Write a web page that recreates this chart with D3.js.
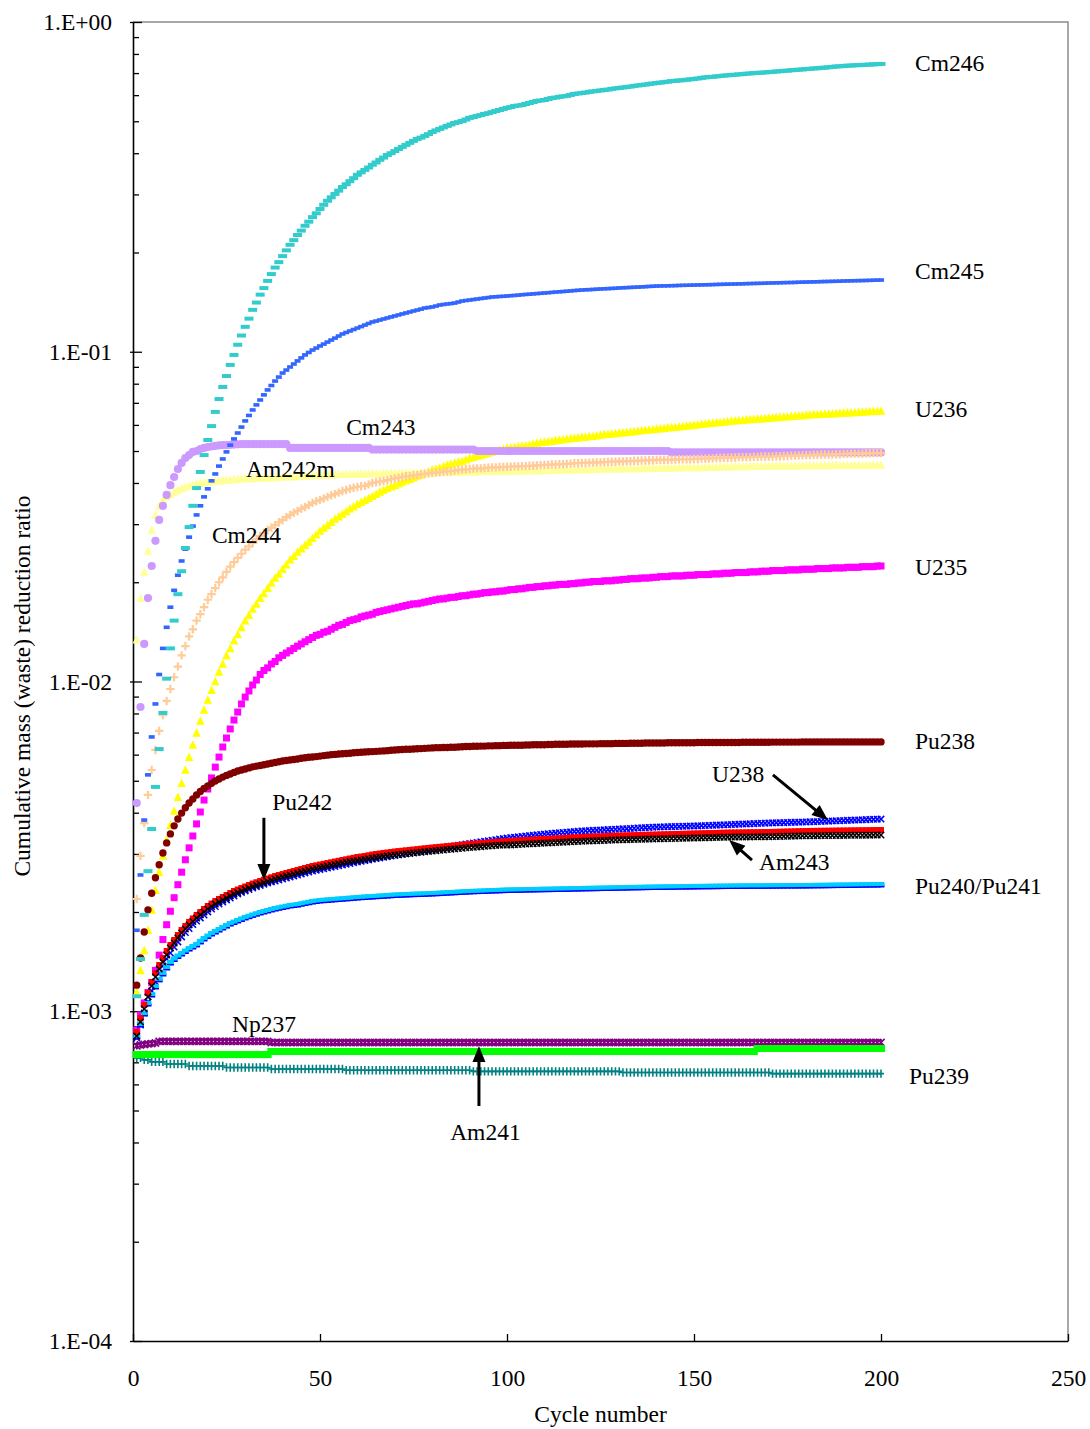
<!DOCTYPE html>
<html>
<head>
<meta charset="utf-8">
<script src="https://cdn.jsdelivr.net/npm/d3@7"></script>
<style>
  html, body { margin: 0; padding: 0; background: #fff; }
  svg text { font-family: "Liberation Serif", "Times New Roman", serif; fill: #000; }
</style>
</head>
<body>
<svg id="chart" width="1090" height="1429"></svg>
<script>
// ---- Data: cumulative mass (waste) reduction ratio for each recycling cycle ----
const cycles = [1,2,3,4,5,6,7,8,9,10,11,12,13,14,15,16,17,18,19,20,
  21,22,23,24,25,26,27,28,29,30,31,32,33,34,35,36,37,38,39,40,
  41,42,43,44,45,46,47,48,49,50,51,52,53,54,55,56,57,58,59,60,
  61,62,63,64,65,66,67,68,69,70,71,72,73,74,75,76,77,78,79,80,
  81,82,83,84,85,86,87,88,89,90,91,92,93,94,95,96,97,98,99,100,
  101,102,103,104,105,106,107,108,109,110,111,112,113,114,115,116,117,118,119,120,
  121,122,123,124,125,126,127,128,129,130,131,132,133,134,135,136,137,138,139,140,
  141,142,143,144,145,146,147,148,149,150,151,152,153,154,155,156,157,158,159,160,
  161,162,163,164,165,166,167,168,169,170,171,172,173,174,175,176,177,178,179,180,
  181,182,183,184,185,186,187,188,189,190,191,192,193,194,195,196,197,198,199,200];

const U235 = [8.77e-4,9.74e-4,1.06e-3,1.14e-3,1.22e-3,1.33e-3,1.48e-3,1.65e-3,1.83e-3,2.01e-3,
  2.21e-3,2.42e-3,2.64e-3,2.88e-3,3.13e-3,3.40e-3,3.70e-3,4.02e-3,4.37e-3,4.72e-3,
  5.10e-3,5.50e-3,5.90e-3,6.33e-3,6.74e-3,7.18e-3,7.64e-3,8.08e-3,8.55e-3,8.97e-3,
  9.36e-3,9.76e-3,0.0101,0.0105,0.0108,0.0110,0.0113,0.0115,0.0118,0.0120,
  0.0122,0.0124,0.0126,0.0128,0.0130,0.0132,0.0134,0.0136,0.0138,0.0139,
  0.0141,0.0142,0.0144,0.0146,0.0148,0.0149,0.0151,0.0153,0.0154,0.0155,
  0.0157,0.0158,0.0159,0.0160,0.0162,0.0163,0.0164,0.0165,0.0166,0.0167,
  0.0168,0.0169,0.0170,0.0171,0.0172,0.0172,0.0173,0.0174,0.0175,0.0176,
  0.0177,0.0178,0.0178,0.0179,0.0180,0.0180,0.0181,0.0182,0.0182,0.0183,
  0.0184,0.0184,0.0185,0.0186,0.0186,0.0187,0.0187,0.0188,0.0188,0.0189,
  0.0190,0.0190,0.0191,0.0191,0.0192,0.0193,0.0193,0.0194,0.0194,0.0195,
  0.0195,0.0196,0.0196,0.0197,0.0197,0.0197,0.0198,0.0198,0.0199,0.0199,
  0.0200,0.0200,0.0201,0.0201,0.0201,0.0202,0.0202,0.0202,0.0203,0.0203,
  0.0204,0.0204,0.0205,0.0205,0.0205,0.0206,0.0206,0.0206,0.0207,0.0207,
  0.0208,0.0208,0.0208,0.0209,0.0209,0.0209,0.0209,0.0210,0.0210,0.0210,
  0.0211,0.0211,0.0211,0.0211,0.0212,0.0212,0.0212,0.0213,0.0213,0.0213,
  0.0214,0.0214,0.0214,0.0214,0.0215,0.0215,0.0215,0.0216,0.0216,0.0216,
  0.0217,0.0217,0.0217,0.0217,0.0218,0.0218,0.0218,0.0218,0.0219,0.0219,
  0.0219,0.0219,0.0220,0.0220,0.0220,0.0220,0.0221,0.0221,0.0221,0.0221,
  0.0222,0.0222,0.0222,0.0222,0.0223,0.0223,0.0223,0.0223,0.0224,0.0224];

const U236 = [1.14e-3,1.33e-3,1.53e-3,1.76e-3,2.03e-3,2.33e-3,2.64e-3,2.96e-3,3.31e-3,3.67e-3,
  4.05e-3,4.46e-3,4.92e-3,5.39e-3,5.90e-3,6.42e-3,6.98e-3,7.59e-3,8.20e-3,8.79e-3,
  9.42e-3,0.0100,0.0107,0.0113,0.0120,0.0126,0.0133,0.0139,0.0146,0.0153,
  0.0159,0.0166,0.0172,0.0179,0.0185,0.0192,0.0199,0.0206,0.0212,0.0219,
  0.0226,0.0234,0.0240,0.0247,0.0253,0.0259,0.0265,0.0272,0.0279,0.0286,
  0.0292,0.0298,0.0304,0.0311,0.0316,0.0322,0.0328,0.0334,0.0339,0.0345,
  0.0350,0.0355,0.0360,0.0365,0.0370,0.0376,0.0381,0.0386,0.0390,0.0394,
  0.0398,0.0403,0.0407,0.0411,0.0415,0.0420,0.0424,0.0429,0.0433,0.0438,
  0.0441,0.0444,0.0449,0.0454,0.0457,0.0460,0.0463,0.0466,0.0471,0.0476,
  0.0479,0.0483,0.0486,0.0490,0.0493,0.0497,0.0500,0.0504,0.0507,0.0511,
  0.0512,0.0514,0.0516,0.0518,0.0519,0.0521,0.0525,0.0529,0.0531,0.0533,
  0.0534,0.0536,0.0538,0.0540,0.0542,0.0544,0.0546,0.0548,0.0549,0.0551,
  0.0552,0.0554,0.0555,0.0557,0.0559,0.0561,0.0562,0.0564,0.0565,0.0567,
  0.0568,0.0570,0.0571,0.0573,0.0575,0.0577,0.0578,0.0580,0.0581,0.0583,
  0.0584,0.0586,0.0588,0.0590,0.0591,0.0593,0.0594,0.0596,0.0598,0.0600,
  0.0601,0.0603,0.0605,0.0607,0.0608,0.0610,0.0611,0.0613,0.0615,0.0617,
  0.0618,0.0619,0.0620,0.0622,0.0623,0.0625,0.0626,0.0627,0.0628,0.0630,
  0.0631,0.0632,0.0633,0.0635,0.0636,0.0638,0.0639,0.0640,0.0641,0.0643,
  0.0644,0.0645,0.0646,0.0647,0.0648,0.0649,0.0649,0.0650,0.0651,0.0652,
  0.0653,0.0654,0.0655,0.0656,0.0657,0.0658,0.0659,0.0660,0.0660,0.0661];

const U238 = [8.30e-4,9.08e-4,9.88e-4,1.067e-3,1.152e-3,1.227e-3,1.306e-3,1.371e-3,1.441e-3,1.502e-3,
  1.566e-3,1.622e-3,1.680e-3,1.733e-3,1.782e-3,1.832e-3,1.878e-3,1.918e-3,1.958e-3,2.000e-3,
  2.042e-3,2.078e-3,2.114e-3,2.144e-3,2.175e-3,2.205e-3,2.236e-3,2.268e-3,2.292e-3,2.316e-3,
  2.340e-3,2.365e-3,2.386e-3,2.407e-3,2.428e-3,2.449e-3,2.466e-3,2.483e-3,2.500e-3,2.518e-3,
  2.536e-3,2.554e-3,2.571e-3,2.588e-3,2.607e-3,2.626e-3,2.644e-3,2.662e-3,2.677e-3,2.691e-3,
  2.705e-3,2.719e-3,2.734e-3,2.748e-3,2.763e-3,2.777e-3,2.792e-3,2.806e-3,2.821e-3,2.836e-3,
  2.850e-3,2.864e-3,2.878e-3,2.891e-3,2.904e-3,2.917e-3,2.930e-3,2.942e-3,2.955e-3,2.967e-3,
  2.980e-3,2.992e-3,3.005e-3,3.017e-3,3.030e-3,3.042e-3,3.055e-3,3.068e-3,3.081e-3,3.093e-3,
  3.106e-3,3.119e-3,3.133e-3,3.146e-3,3.159e-3,3.172e-3,3.186e-3,3.199e-3,3.213e-3,3.226e-3,
  3.239e-3,3.251e-3,3.264e-3,3.276e-3,3.289e-3,3.301e-3,3.314e-3,3.327e-3,3.340e-3,3.352e-3,
  3.362e-3,3.371e-3,3.381e-3,3.390e-3,3.400e-3,3.409e-3,3.419e-3,3.428e-3,3.438e-3,3.447e-3,
  3.455e-3,3.462e-3,3.469e-3,3.476e-3,3.484e-3,3.491e-3,3.499e-3,3.506e-3,3.514e-3,3.521e-3,
  3.526e-3,3.531e-3,3.536e-3,3.540e-3,3.545e-3,3.550e-3,3.555e-3,3.559e-3,3.564e-3,3.569e-3,
  3.574e-3,3.579e-3,3.584e-3,3.589e-3,3.595e-3,3.600e-3,3.605e-3,3.610e-3,3.615e-3,3.620e-3,
  3.623e-3,3.625e-3,3.628e-3,3.630e-3,3.633e-3,3.635e-3,3.638e-3,3.640e-3,3.643e-3,3.645e-3,
  3.649e-3,3.653e-3,3.657e-3,3.660e-3,3.664e-3,3.668e-3,3.672e-3,3.675e-3,3.679e-3,3.683e-3,
  3.687e-3,3.691e-3,3.695e-3,3.699e-3,3.703e-3,3.707e-3,3.711e-3,3.715e-3,3.719e-3,3.723e-3,
  3.726e-3,3.728e-3,3.731e-3,3.733e-3,3.736e-3,3.739e-3,3.742e-3,3.744e-3,3.747e-3,3.749e-3,
  3.753e-3,3.757e-3,3.761e-3,3.765e-3,3.769e-3,3.772e-3,3.776e-3,3.780e-3,3.784e-3,3.788e-3,
  3.792e-3,3.796e-3,3.800e-3,3.804e-3,3.808e-3,3.812e-3,3.816e-3,3.820e-3,3.824e-3,3.828e-3];

const Np237 = [7.85e-4,7.90e-4,7.93e-4,7.96e-4,7.98e-4,8.01e-4,8.10e-4,8.10e-4,8.10e-4,8.10e-4,
  8.10e-4,8.10e-4,8.10e-4,8.10e-4,8.10e-4,8.10e-4,8.10e-4,8.10e-4,8.10e-4,8.10e-4,
  8.10e-4,8.10e-4,8.10e-4,8.10e-4,8.10e-4,8.10e-4,8.10e-4,8.10e-4,8.10e-4,8.10e-4,
  8.10e-4,8.10e-4,8.10e-4,8.10e-4,8.10e-4,8.10e-4,8.04e-4,8.04e-4,8.04e-4,8.04e-4,
  8.04e-4,8.04e-4,8.04e-4,8.04e-4,8.04e-4,8.04e-4,8.04e-4,8.04e-4,8.04e-4,8.04e-4,
  8.04e-4,8.04e-4,8.04e-4,8.04e-4,8.04e-4,8.04e-4,8.04e-4,8.04e-4,8.04e-4,8.04e-4,
  8.04e-4,8.04e-4,8.04e-4,8.04e-4,8.04e-4,8.04e-4,8.04e-4,8.04e-4,8.04e-4,8.04e-4,
  8.04e-4,8.04e-4,8.04e-4,8.04e-4,8.04e-4,8.04e-4,8.04e-4,8.04e-4,8.04e-4,8.04e-4,
  8.04e-4,8.04e-4,8.04e-4,8.04e-4,8.04e-4,8.04e-4,8.04e-4,8.04e-4,8.04e-4,8.04e-4,
  8.04e-4,8.04e-4,8.04e-4,8.04e-4,8.04e-4,8.04e-4,8.04e-4,8.04e-4,8.04e-4,8.04e-4,
  8.04e-4,8.04e-4,8.04e-4,8.04e-4,8.04e-4,8.04e-4,8.04e-4,8.04e-4,8.04e-4,8.04e-4,
  8.04e-4,8.04e-4,8.04e-4,8.04e-4,8.04e-4,8.04e-4,8.04e-4,8.04e-4,8.04e-4,8.04e-4,
  8.04e-4,8.04e-4,8.04e-4,8.04e-4,8.04e-4,8.04e-4,8.04e-4,8.04e-4,8.04e-4,8.04e-4,
  8.04e-4,8.04e-4,8.04e-4,8.04e-4,8.04e-4,8.04e-4,8.04e-4,8.04e-4,8.04e-4,8.04e-4,
  8.04e-4,8.04e-4,8.04e-4,8.04e-4,8.04e-4,8.04e-4,8.04e-4,8.04e-4,8.04e-4,8.04e-4,
  8.04e-4,8.04e-4,8.04e-4,8.04e-4,8.04e-4,8.04e-4,8.04e-4,8.04e-4,8.04e-4,8.04e-4,
  8.04e-4,8.04e-4,8.04e-4,8.04e-4,8.04e-4,8.04e-4,8.04e-4,8.04e-4,8.04e-4,8.04e-4,
  8.04e-4,8.04e-4,8.04e-4,8.04e-4,8.04e-4,8.04e-4,8.04e-4,8.04e-4,8.04e-4,8.04e-4,
  8.04e-4,8.04e-4,8.04e-4,8.04e-4,8.04e-4,8.04e-4,8.04e-4,8.04e-4,8.04e-4,8.04e-4,
  8.04e-4,8.04e-4,8.04e-4,8.04e-4,8.04e-4,8.04e-4,8.04e-4,8.04e-4,8.04e-4,8.04e-4];

const Pu238 = [1.20e-3,1.45e-3,1.74e-3,2.03e-3,2.28e-3,2.54e-3,2.78e-3,3.02e-3,3.24e-3,3.45e-3,
  3.65e-3,3.83e-3,3.99e-3,4.14e-3,4.28e-3,4.40e-3,4.53e-3,4.64e-3,4.74e-3,4.82e-3,
  4.91e-3,4.99e-3,5.06e-3,5.13e-3,5.19e-3,5.24e-3,5.30e-3,5.35e-3,5.39e-3,5.43e-3,
  5.47e-3,5.51e-3,5.54e-3,5.56e-3,5.59e-3,5.62e-3,5.65e-3,5.68e-3,5.71e-3,5.74e-3,
  5.76e-3,5.78e-3,5.80e-3,5.82e-3,5.85e-3,5.87e-3,5.89e-3,5.90e-3,5.92e-3,5.94e-3,
  5.96e-3,5.98e-3,6.00e-3,6.01e-3,6.03e-3,6.04e-3,6.05e-3,6.06e-3,6.08e-3,6.09e-3,
  6.10e-3,6.11e-3,6.12e-3,6.13e-3,6.14e-3,6.15e-3,6.16e-3,6.17e-3,6.19e-3,6.20e-3,
  6.21e-3,6.22e-3,6.23e-3,6.23e-3,6.24e-3,6.25e-3,6.26e-3,6.27e-3,6.28e-3,6.29e-3,
  6.30e-3,6.30e-3,6.31e-3,6.31e-3,6.32e-3,6.32e-3,6.33e-3,6.34e-3,6.35e-3,6.35e-3,
  6.36e-3,6.36e-3,6.37e-3,6.37e-3,6.38e-3,6.38e-3,6.39e-3,6.39e-3,6.40e-3,6.40e-3,
  6.41e-3,6.41e-3,6.41e-3,6.41e-3,6.42e-3,6.42e-3,6.43e-3,6.43e-3,6.43e-3,6.43e-3,
  6.44e-3,6.44e-3,6.45e-3,6.45e-3,6.45e-3,6.45e-3,6.46e-3,6.46e-3,6.46e-3,6.46e-3,
  6.47e-3,6.47e-3,6.47e-3,6.47e-3,6.48e-3,6.48e-3,6.48e-3,6.48e-3,6.49e-3,6.49e-3,
  6.49e-3,6.49e-3,6.50e-3,6.50e-3,6.50e-3,6.50e-3,6.51e-3,6.51e-3,6.51e-3,6.51e-3,
  6.51e-3,6.51e-3,6.52e-3,6.52e-3,6.52e-3,6.52e-3,6.52e-3,6.52e-3,6.52e-3,6.52e-3,
  6.53e-3,6.53e-3,6.53e-3,6.53e-3,6.53e-3,6.53e-3,6.53e-3,6.53e-3,6.53e-3,6.53e-3,
  6.53e-3,6.53e-3,6.54e-3,6.54e-3,6.54e-3,6.54e-3,6.54e-3,6.54e-3,6.54e-3,6.54e-3,
  6.55e-3,6.55e-3,6.55e-3,6.55e-3,6.55e-3,6.55e-3,6.55e-3,6.55e-3,6.56e-3,6.56e-3,
  6.56e-3,6.56e-3,6.56e-3,6.56e-3,6.56e-3,6.56e-3,6.56e-3,6.56e-3,6.56e-3,6.56e-3,
  6.56e-3,6.56e-3,6.56e-3,6.56e-3,6.56e-3,6.56e-3,6.56e-3,6.56e-3,6.56e-3,6.56e-3];

const Pu239 = [7.22e-4,7.22e-4,7.12e-4,7.12e-4,7.02e-4,7.02e-4,7.02e-4,7.02e-4,6.92e-4,6.92e-4,
  6.92e-4,6.92e-4,6.92e-4,6.92e-4,6.82e-4,6.82e-4,6.82e-4,6.82e-4,6.82e-4,6.82e-4,
  6.82e-4,6.82e-4,6.82e-4,6.82e-4,6.75e-4,6.75e-4,6.75e-4,6.75e-4,6.75e-4,6.75e-4,
  6.75e-4,6.75e-4,6.75e-4,6.75e-4,6.75e-4,6.75e-4,6.68e-4,6.68e-4,6.68e-4,6.68e-4,
  6.68e-4,6.68e-4,6.68e-4,6.68e-4,6.68e-4,6.68e-4,6.68e-4,6.68e-4,6.68e-4,6.68e-4,
  6.68e-4,6.68e-4,6.68e-4,6.68e-4,6.68e-4,6.68e-4,6.62e-4,6.62e-4,6.62e-4,6.62e-4,
  6.62e-4,6.62e-4,6.62e-4,6.62e-4,6.62e-4,6.62e-4,6.62e-4,6.62e-4,6.62e-4,6.62e-4,
  6.62e-4,6.62e-4,6.62e-4,6.62e-4,6.62e-4,6.62e-4,6.62e-4,6.62e-4,6.62e-4,6.62e-4,
  6.62e-4,6.62e-4,6.62e-4,6.62e-4,6.62e-4,6.62e-4,6.62e-4,6.62e-4,6.62e-4,6.62e-4,
  6.57e-4,6.57e-4,6.57e-4,6.57e-4,6.57e-4,6.57e-4,6.57e-4,6.57e-4,6.57e-4,6.57e-4,
  6.57e-4,6.57e-4,6.57e-4,6.57e-4,6.57e-4,6.57e-4,6.57e-4,6.57e-4,6.57e-4,6.57e-4,
  6.57e-4,6.57e-4,6.57e-4,6.57e-4,6.57e-4,6.57e-4,6.57e-4,6.57e-4,6.57e-4,6.57e-4,
  6.57e-4,6.57e-4,6.57e-4,6.57e-4,6.57e-4,6.57e-4,6.57e-4,6.57e-4,6.57e-4,6.57e-4,
  6.52e-4,6.52e-4,6.52e-4,6.52e-4,6.52e-4,6.52e-4,6.52e-4,6.52e-4,6.52e-4,6.52e-4,
  6.52e-4,6.52e-4,6.52e-4,6.52e-4,6.52e-4,6.52e-4,6.52e-4,6.52e-4,6.52e-4,6.52e-4,
  6.52e-4,6.52e-4,6.52e-4,6.52e-4,6.52e-4,6.52e-4,6.52e-4,6.52e-4,6.52e-4,6.52e-4,
  6.52e-4,6.52e-4,6.52e-4,6.52e-4,6.52e-4,6.52e-4,6.52e-4,6.52e-4,6.52e-4,6.52e-4,
  6.47e-4,6.47e-4,6.47e-4,6.47e-4,6.47e-4,6.47e-4,6.47e-4,6.47e-4,6.47e-4,6.47e-4,
  6.47e-4,6.47e-4,6.47e-4,6.47e-4,6.47e-4,6.47e-4,6.47e-4,6.47e-4,6.47e-4,6.47e-4,
  6.47e-4,6.47e-4,6.47e-4,6.47e-4,6.47e-4,6.47e-4,6.47e-4,6.47e-4,6.47e-4,6.47e-4];

const Pu240 = [8.29e-4,9.02e-4,9.74e-4,1.044e-3,1.112e-3,1.176e-3,1.236e-3,1.288e-3,1.343e-3,1.390e-3,
  1.425e-3,1.455e-3,1.481e-3,1.507e-3,1.533e-3,1.555e-3,1.578e-3,1.611e-3,1.645e-3,1.673e-3,
  1.703e-3,1.727e-3,1.751e-3,1.776e-3,1.800e-3,1.826e-3,1.845e-3,1.865e-3,1.885e-3,1.905e-3,
  1.922e-3,1.939e-3,1.956e-3,1.972e-3,1.986e-3,2.000e-3,2.014e-3,2.027e-3,2.038e-3,2.049e-3,
  2.060e-3,2.071e-3,2.078e-3,2.084e-3,2.096e-3,2.107e-3,2.118e-3,2.129e-3,2.137e-3,2.145e-3,
  2.149e-3,2.153e-3,2.158e-3,2.162e-3,2.167e-3,2.171e-3,2.176e-3,2.180e-3,2.185e-3,2.190e-3,
  2.194e-3,2.198e-3,2.202e-3,2.205e-3,2.209e-3,2.213e-3,2.217e-3,2.220e-3,2.224e-3,2.228e-3,
  2.231e-3,2.233e-3,2.236e-3,2.238e-3,2.241e-3,2.243e-3,2.245e-3,2.247e-3,2.250e-3,2.252e-3,
  2.255e-3,2.258e-3,2.262e-3,2.265e-3,2.268e-3,2.271e-3,2.275e-3,2.278e-3,2.281e-3,2.284e-3,
  2.287e-3,2.289e-3,2.292e-3,2.294e-3,2.296e-3,2.298e-3,2.300e-3,2.302e-3,2.305e-3,2.307e-3,
  2.309e-3,2.310e-3,2.311e-3,2.312e-3,2.314e-3,2.315e-3,2.316e-3,2.317e-3,2.319e-3,2.320e-3,
  2.321e-3,2.322e-3,2.324e-3,2.325e-3,2.326e-3,2.327e-3,2.329e-3,2.330e-3,2.331e-3,2.332e-3,
  2.334e-3,2.335e-3,2.336e-3,2.337e-3,2.339e-3,2.340e-3,2.341e-3,2.342e-3,2.344e-3,2.345e-3,
  2.346e-3,2.347e-3,2.349e-3,2.350e-3,2.351e-3,2.352e-3,2.354e-3,2.355e-3,2.356e-3,2.357e-3,
  2.358e-3,2.358e-3,2.359e-3,2.360e-3,2.361e-3,2.362e-3,2.363e-3,2.363e-3,2.364e-3,2.365e-3,
  2.366e-3,2.367e-3,2.368e-3,2.368e-3,2.369e-3,2.370e-3,2.371e-3,2.372e-3,2.373e-3,2.373e-3,
  2.374e-3,2.374e-3,2.375e-3,2.375e-3,2.376e-3,2.376e-3,2.377e-3,2.377e-3,2.377e-3,2.377e-3,
  2.378e-3,2.378e-3,2.379e-3,2.379e-3,2.380e-3,2.380e-3,2.380e-3,2.380e-3,2.381e-3,2.381e-3,
  2.382e-3,2.383e-3,2.384e-3,2.384e-3,2.385e-3,2.386e-3,2.387e-3,2.388e-3,2.389e-3,2.389e-3,
  2.390e-3,2.391e-3,2.392e-3,2.393e-3,2.394e-3,2.395e-3,2.396e-3,2.396e-3,2.397e-3,2.398e-3];

const Pu241 = [8.41e-4,9.15e-4,9.88e-4,1.059e-3,1.128e-3,1.193e-3,1.253e-3,1.306e-3,1.362e-3,1.410e-3,
  1.445e-3,1.476e-3,1.502e-3,1.528e-3,1.555e-3,1.577e-3,1.600e-3,1.634e-3,1.668e-3,1.697e-3,
  1.727e-3,1.751e-3,1.776e-3,1.801e-3,1.826e-3,1.852e-3,1.871e-3,1.891e-3,1.912e-3,1.932e-3,
  1.949e-3,1.966e-3,1.983e-3,2.000e-3,2.014e-3,2.028e-3,2.042e-3,2.056e-3,2.067e-3,2.078e-3,
  2.089e-3,2.100e-3,2.107e-3,2.114e-3,2.126e-3,2.137e-3,2.148e-3,2.159e-3,2.167e-3,2.175e-3,
  2.180e-3,2.184e-3,2.189e-3,2.193e-3,2.198e-3,2.202e-3,2.207e-3,2.211e-3,2.216e-3,2.221e-3,
  2.225e-3,2.229e-3,2.233e-3,2.236e-3,2.240e-3,2.244e-3,2.248e-3,2.252e-3,2.256e-3,2.260e-3,
  2.263e-3,2.265e-3,2.268e-3,2.270e-3,2.273e-3,2.275e-3,2.277e-3,2.279e-3,2.282e-3,2.284e-3,
  2.287e-3,2.290e-3,2.294e-3,2.297e-3,2.300e-3,2.303e-3,2.307e-3,2.310e-3,2.313e-3,2.316e-3,
  2.319e-3,2.321e-3,2.324e-3,2.326e-3,2.329e-3,2.331e-3,2.333e-3,2.335e-3,2.338e-3,2.340e-3,
  2.342e-3,2.343e-3,2.344e-3,2.345e-3,2.347e-3,2.348e-3,2.349e-3,2.350e-3,2.352e-3,2.353e-3,
  2.354e-3,2.355e-3,2.357e-3,2.358e-3,2.359e-3,2.360e-3,2.362e-3,2.363e-3,2.364e-3,2.365e-3,
  2.367e-3,2.368e-3,2.369e-3,2.370e-3,2.372e-3,2.373e-3,2.374e-3,2.375e-3,2.377e-3,2.378e-3,
  2.379e-3,2.380e-3,2.382e-3,2.383e-3,2.384e-3,2.385e-3,2.387e-3,2.388e-3,2.389e-3,2.390e-3,
  2.391e-3,2.392e-3,2.393e-3,2.393e-3,2.394e-3,2.395e-3,2.396e-3,2.397e-3,2.398e-3,2.399e-3,
  2.400e-3,2.400e-3,2.401e-3,2.402e-3,2.403e-3,2.404e-3,2.405e-3,2.405e-3,2.406e-3,2.407e-3,
  2.408e-3,2.408e-3,2.409e-3,2.409e-3,2.410e-3,2.410e-3,2.410e-3,2.410e-3,2.411e-3,2.411e-3,
  2.412e-3,2.412e-3,2.413e-3,2.413e-3,2.413e-3,2.413e-3,2.414e-3,2.414e-3,2.415e-3,2.415e-3,
  2.416e-3,2.417e-3,2.418e-3,2.418e-3,2.419e-3,2.420e-3,2.421e-3,2.422e-3,2.423e-3,2.423e-3,
  2.424e-3,2.425e-3,2.426e-3,2.427e-3,2.428e-3,2.429e-3,2.430e-3,2.430e-3,2.431e-3,2.432e-3];

const Pu242 = [8.65e-4,9.54e-4,1.045e-3,1.136e-3,1.227e-3,1.306e-3,1.381e-3,1.450e-3,1.523e-3,1.588e-3,
  1.645e-3,1.703e-3,1.764e-3,1.814e-3,1.866e-3,1.912e-3,1.958e-3,2.000e-3,2.042e-3,2.085e-3,
  2.122e-3,2.159e-3,2.190e-3,2.221e-3,2.252e-3,2.284e-3,2.316e-3,2.340e-3,2.365e-3,2.390e-3,
  2.415e-3,2.440e-3,2.462e-3,2.483e-3,2.505e-3,2.527e-3,2.549e-3,2.571e-3,2.589e-3,2.607e-3,
  2.626e-3,2.644e-3,2.663e-3,2.682e-3,2.700e-3,2.719e-3,2.738e-3,2.757e-3,2.771e-3,2.786e-3,
  2.800e-3,2.815e-3,2.830e-3,2.845e-3,2.860e-3,2.875e-3,2.890e-3,2.905e-3,2.920e-3,2.936e-3,
  2.946e-3,2.957e-3,2.972e-3,2.988e-3,2.998e-3,3.009e-3,3.020e-3,3.030e-3,3.041e-3,3.051e-3,
  3.060e-3,3.068e-3,3.076e-3,3.085e-3,3.093e-3,3.102e-3,3.111e-3,3.120e-3,3.128e-3,3.137e-3,
  3.145e-3,3.152e-3,3.160e-3,3.168e-3,3.175e-3,3.183e-3,3.191e-3,3.199e-3,3.206e-3,3.214e-3,
  3.221e-3,3.228e-3,3.235e-3,3.241e-3,3.248e-3,3.255e-3,3.262e-3,3.268e-3,3.275e-3,3.282e-3,
  3.286e-3,3.291e-3,3.296e-3,3.301e-3,3.305e-3,3.310e-3,3.315e-3,3.320e-3,3.324e-3,3.329e-3,
  3.334e-3,3.338e-3,3.343e-3,3.348e-3,3.352e-3,3.357e-3,3.362e-3,3.367e-3,3.371e-3,3.376e-3,
  3.379e-3,3.383e-3,3.386e-3,3.390e-3,3.393e-3,3.397e-3,3.400e-3,3.404e-3,3.407e-3,3.411e-3,
  3.413e-3,3.416e-3,3.418e-3,3.421e-3,3.423e-3,3.426e-3,3.428e-3,3.431e-3,3.433e-3,3.436e-3,
  3.438e-3,3.441e-3,3.443e-3,3.446e-3,3.448e-3,3.450e-3,3.453e-3,3.455e-3,3.458e-3,3.460e-3,
  3.462e-3,3.465e-3,3.467e-3,3.470e-3,3.472e-3,3.474e-3,3.477e-3,3.479e-3,3.482e-3,3.484e-3,
  3.485e-3,3.486e-3,3.487e-3,3.489e-3,3.490e-3,3.491e-3,3.492e-3,3.494e-3,3.495e-3,3.496e-3,
  3.498e-3,3.501e-3,3.503e-3,3.506e-3,3.508e-3,3.511e-3,3.513e-3,3.516e-3,3.518e-3,3.521e-3,
  3.522e-3,3.523e-3,3.524e-3,3.526e-3,3.527e-3,3.528e-3,3.529e-3,3.531e-3,3.532e-3,3.533e-3,
  3.534e-3,3.535e-3,3.536e-3,3.538e-3,3.539e-3,3.540e-3,3.541e-3,3.543e-3,3.544e-3,3.545e-3];

const Am241 = [7.39e-4,7.39e-4,7.39e-4,7.39e-4,7.39e-4,7.39e-4,7.39e-4,7.39e-4,7.39e-4,7.39e-4,
  7.39e-4,7.39e-4,7.39e-4,7.39e-4,7.39e-4,7.39e-4,7.39e-4,7.39e-4,7.39e-4,7.39e-4,
  7.39e-4,7.39e-4,7.39e-4,7.39e-4,7.39e-4,7.39e-4,7.39e-4,7.39e-4,7.39e-4,7.39e-4,
  7.39e-4,7.39e-4,7.39e-4,7.39e-4,7.39e-4,7.39e-4,7.55e-4,7.55e-4,7.55e-4,7.55e-4,
  7.55e-4,7.55e-4,7.55e-4,7.55e-4,7.55e-4,7.55e-4,7.55e-4,7.55e-4,7.55e-4,7.55e-4,
  7.55e-4,7.55e-4,7.55e-4,7.55e-4,7.55e-4,7.55e-4,7.55e-4,7.55e-4,7.55e-4,7.55e-4,
  7.55e-4,7.55e-4,7.55e-4,7.55e-4,7.55e-4,7.55e-4,7.55e-4,7.55e-4,7.55e-4,7.55e-4,
  7.55e-4,7.55e-4,7.55e-4,7.55e-4,7.55e-4,7.55e-4,7.55e-4,7.55e-4,7.55e-4,7.55e-4,
  7.55e-4,7.55e-4,7.55e-4,7.55e-4,7.55e-4,7.55e-4,7.55e-4,7.55e-4,7.55e-4,7.55e-4,
  7.55e-4,7.55e-4,7.55e-4,7.55e-4,7.55e-4,7.55e-4,7.55e-4,7.55e-4,7.55e-4,7.55e-4,
  7.55e-4,7.55e-4,7.55e-4,7.55e-4,7.55e-4,7.55e-4,7.55e-4,7.55e-4,7.55e-4,7.55e-4,
  7.55e-4,7.55e-4,7.55e-4,7.55e-4,7.55e-4,7.55e-4,7.55e-4,7.55e-4,7.55e-4,7.55e-4,
  7.55e-4,7.55e-4,7.55e-4,7.55e-4,7.55e-4,7.55e-4,7.55e-4,7.55e-4,7.55e-4,7.55e-4,
  7.55e-4,7.55e-4,7.55e-4,7.55e-4,7.55e-4,7.55e-4,7.55e-4,7.55e-4,7.55e-4,7.55e-4,
  7.55e-4,7.55e-4,7.55e-4,7.55e-4,7.55e-4,7.55e-4,7.55e-4,7.55e-4,7.55e-4,7.55e-4,
  7.55e-4,7.55e-4,7.55e-4,7.55e-4,7.55e-4,7.55e-4,7.55e-4,7.55e-4,7.55e-4,7.55e-4,
  7.55e-4,7.55e-4,7.55e-4,7.55e-4,7.55e-4,7.55e-4,7.71e-4,7.71e-4,7.71e-4,7.71e-4,
  7.71e-4,7.71e-4,7.71e-4,7.71e-4,7.71e-4,7.71e-4,7.71e-4,7.71e-4,7.71e-4,7.71e-4,
  7.71e-4,7.71e-4,7.71e-4,7.71e-4,7.71e-4,7.71e-4,7.71e-4,7.71e-4,7.71e-4,7.71e-4,
  7.71e-4,7.71e-4,7.71e-4,7.71e-4,7.71e-4,7.71e-4,7.71e-4,7.71e-4,7.71e-4,7.71e-4];

const Am242m = [0.0134,0.0179,0.0215,0.0249,0.0288,0.0320,0.0341,0.0355,0.0363,0.0370,
  0.0376,0.0381,0.0385,0.0389,0.0392,0.0394,0.0397,0.0400,0.0401,0.0403,
  0.0404,0.0406,0.0406,0.0408,0.0408,0.0409,0.0410,0.0411,0.0412,0.0413,
  0.0413,0.0413,0.0414,0.0414,0.0415,0.0415,0.0416,0.0416,0.0417,0.0417,
  0.0418,0.0418,0.0419,0.0419,0.0420,0.0420,0.0421,0.0422,0.0422,0.0423,
  0.0423,0.0424,0.0424,0.0424,0.0425,0.0425,0.0425,0.0425,0.0426,0.0426,
  0.0426,0.0426,0.0427,0.0427,0.0427,0.0427,0.0428,0.0428,0.0428,0.0428,
  0.0428,0.0428,0.0429,0.0429,0.0429,0.0429,0.0430,0.0430,0.0430,0.0430,
  0.0431,0.0431,0.0431,0.0431,0.0432,0.0432,0.0432,0.0432,0.0433,0.0433,
  0.0433,0.0433,0.0434,0.0434,0.0434,0.0434,0.0435,0.0435,0.0435,0.0435,
  0.0435,0.0435,0.0436,0.0436,0.0436,0.0436,0.0437,0.0437,0.0437,0.0437,
  0.0438,0.0438,0.0438,0.0438,0.0439,0.0439,0.0439,0.0439,0.0440,0.0440,
  0.0440,0.0440,0.0441,0.0441,0.0441,0.0441,0.0442,0.0442,0.0442,0.0442,
  0.0443,0.0443,0.0443,0.0443,0.0443,0.0443,0.0444,0.0444,0.0444,0.0444,
  0.0444,0.0444,0.0445,0.0445,0.0445,0.0445,0.0446,0.0446,0.0446,0.0446,
  0.0446,0.0446,0.0447,0.0447,0.0447,0.0447,0.0448,0.0448,0.0448,0.0448,
  0.0449,0.0449,0.0449,0.0449,0.0450,0.0450,0.0450,0.0450,0.0450,0.0450,
  0.0451,0.0451,0.0451,0.0451,0.0451,0.0451,0.0451,0.0451,0.0452,0.0452,
  0.0452,0.0452,0.0452,0.0452,0.0452,0.0452,0.0453,0.0453,0.0453,0.0453,
  0.0453,0.0453,0.0453,0.0453,0.0453,0.0453,0.0453,0.0454,0.0454,0.0454];

const Am243 = [8.41e-4,9.28e-4,1.016e-3,1.105e-3,1.193e-3,1.270e-3,1.343e-3,1.410e-3,1.481e-3,1.555e-3,
  1.611e-3,1.668e-3,1.727e-3,1.776e-3,1.827e-3,1.872e-3,1.917e-3,1.959e-3,2.000e-3,2.042e-3,
  2.078e-3,2.114e-3,2.145e-3,2.175e-3,2.205e-3,2.237e-3,2.268e-3,2.292e-3,2.316e-3,2.341e-3,
  2.365e-3,2.389e-3,2.410e-3,2.432e-3,2.453e-3,2.475e-3,2.496e-3,2.518e-3,2.535e-3,2.553e-3,
  2.571e-3,2.589e-3,2.607e-3,2.626e-3,2.644e-3,2.663e-3,2.681e-3,2.700e-3,2.714e-3,2.728e-3,
  2.742e-3,2.757e-3,2.771e-3,2.786e-3,2.801e-3,2.816e-3,2.830e-3,2.845e-3,2.855e-3,2.865e-3,
  2.875e-3,2.886e-3,2.901e-3,2.916e-3,2.926e-3,2.936e-3,2.946e-3,2.957e-3,2.967e-3,2.977e-3,
  2.985e-3,2.994e-3,3.002e-3,3.011e-3,3.019e-3,3.027e-3,3.036e-3,3.045e-3,3.053e-3,3.061e-3,
  3.068e-3,3.076e-3,3.084e-3,3.092e-3,3.099e-3,3.106e-3,3.114e-3,3.122e-3,3.129e-3,3.137e-3,
  3.143e-3,3.150e-3,3.156e-3,3.163e-3,3.170e-3,3.177e-3,3.183e-3,3.189e-3,3.190e-3,3.191e-3,
  3.195e-3,3.200e-3,3.204e-3,3.209e-3,3.213e-3,3.218e-3,3.222e-3,3.227e-3,3.231e-3,3.236e-3,
  3.240e-3,3.244e-3,3.248e-3,3.253e-3,3.257e-3,3.261e-3,3.265e-3,3.270e-3,3.274e-3,3.278e-3,
  3.281e-3,3.284e-3,3.287e-3,3.291e-3,3.294e-3,3.297e-3,3.300e-3,3.304e-3,3.307e-3,3.310e-3,
  3.312e-3,3.314e-3,3.316e-3,3.319e-3,3.321e-3,3.323e-3,3.325e-3,3.328e-3,3.330e-3,3.332e-3,
  3.334e-3,3.336e-3,3.338e-3,3.340e-3,3.342e-3,3.345e-3,3.347e-3,3.349e-3,3.351e-3,3.353e-3,
  3.355e-3,3.357e-3,3.359e-3,3.361e-3,3.363e-3,3.366e-3,3.368e-3,3.370e-3,3.372e-3,3.374e-3,
  3.375e-3,3.376e-3,3.377e-3,3.378e-3,3.378e-3,3.379e-3,3.380e-3,3.381e-3,3.382e-3,3.383e-3,
  3.385e-3,3.387e-3,3.389e-3,3.392e-3,3.394e-3,3.396e-3,3.398e-3,3.401e-3,3.403e-3,3.405e-3,
  3.406e-3,3.407e-3,3.408e-3,3.409e-3,3.409e-3,3.410e-3,3.411e-3,3.412e-3,3.413e-3,3.414e-3,
  3.415e-3,3.416e-3,3.417e-3,3.418e-3,3.418e-3,3.419e-3,3.420e-3,3.421e-3,3.422e-3,3.423e-3];

const Cm243 = [4.28e-3,8.37e-3,0.0130,0.0179,0.0224,0.0267,0.0309,0.0341,0.0368,0.0394,
  0.0417,0.0441,0.0460,0.0476,0.0486,0.0497,0.0500,0.0507,0.0511,0.0514,
  0.0516,0.0518,0.0520,0.0521,0.0521,0.0522,0.0523,0.0524,0.0525,0.0525,
  0.0525,0.0525,0.0525,0.0525,0.0525,0.0525,0.0525,0.0525,0.0525,0.0525,
  0.0525,0.0511,0.0511,0.0511,0.0511,0.0511,0.0511,0.0511,0.0511,0.0511,
  0.0511,0.0511,0.0511,0.0511,0.0511,0.0511,0.0511,0.0511,0.0511,0.0511,
  0.0511,0.0511,0.0511,0.0505,0.0505,0.0505,0.0505,0.0505,0.0505,0.0505,
  0.0505,0.0505,0.0505,0.0505,0.0505,0.0505,0.0505,0.0505,0.0505,0.0505,
  0.0505,0.0505,0.0505,0.0505,0.0505,0.0505,0.0505,0.0505,0.0505,0.0505,
  0.0505,0.0500,0.0500,0.0500,0.0500,0.0500,0.0500,0.0500,0.0500,0.0500,
  0.0500,0.0500,0.0500,0.0500,0.0500,0.0500,0.0500,0.0500,0.0500,0.0500,
  0.0500,0.0500,0.0500,0.0500,0.0500,0.0500,0.0500,0.0500,0.0500,0.0500,
  0.0500,0.0500,0.0500,0.0500,0.0500,0.0500,0.0500,0.0500,0.0500,0.0500,
  0.0500,0.0500,0.0500,0.0500,0.0500,0.0500,0.0500,0.0500,0.0500,0.0500,
  0.0500,0.0500,0.0500,0.0495,0.0495,0.0495,0.0495,0.0495,0.0495,0.0495,
  0.0495,0.0495,0.0495,0.0495,0.0495,0.0495,0.0495,0.0495,0.0495,0.0495,
  0.0495,0.0495,0.0495,0.0495,0.0495,0.0495,0.0495,0.0495,0.0495,0.0495,
  0.0495,0.0495,0.0495,0.0495,0.0495,0.0495,0.0495,0.0495,0.0495,0.0495,
  0.0495,0.0495,0.0495,0.0495,0.0495,0.0495,0.0495,0.0495,0.0495,0.0495,
  0.0495,0.0495,0.0495,0.0495,0.0495,0.0495,0.0495,0.0495,0.0495,0.0495];

const Cm244 = [2.19e-3,2.96e-3,3.72e-3,4.53e-3,5.39e-3,6.20e-3,7.08e-3,7.91e-3,8.73e-3,9.49e-3,
  0.0103,0.0111,0.0120,0.0128,0.0137,0.0144,0.0153,0.0160,0.0168,0.0177,
  0.0184,0.0192,0.0200,0.0207,0.0215,0.0223,0.0230,0.0237,0.0244,0.0251,
  0.0257,0.0263,0.0270,0.0276,0.0282,0.0288,0.0293,0.0298,0.0304,0.0309,
  0.0315,0.0320,0.0325,0.0329,0.0334,0.0338,0.0343,0.0348,0.0352,0.0355,
  0.0359,0.0363,0.0367,0.0370,0.0374,0.0378,0.0381,0.0384,0.0387,0.0389,
  0.0391,0.0392,0.0396,0.0400,0.0402,0.0404,0.0406,0.0408,0.0411,0.0413,
  0.0415,0.0417,0.0419,0.0420,0.0422,0.0423,0.0425,0.0426,0.0428,0.0429,
  0.0430,0.0431,0.0433,0.0434,0.0435,0.0436,0.0438,0.0439,0.0440,0.0441,
  0.0442,0.0443,0.0443,0.0444,0.0445,0.0446,0.0446,0.0447,0.0447,0.0448,
  0.0448,0.0449,0.0449,0.0450,0.0450,0.0451,0.0451,0.0452,0.0453,0.0454,
  0.0454,0.0455,0.0455,0.0456,0.0456,0.0457,0.0458,0.0459,0.0459,0.0460,
  0.0460,0.0461,0.0461,0.0462,0.0462,0.0463,0.0463,0.0464,0.0464,0.0465,
  0.0465,0.0466,0.0466,0.0467,0.0467,0.0468,0.0468,0.0469,0.0469,0.0470,
  0.0470,0.0470,0.0470,0.0471,0.0471,0.0472,0.0472,0.0472,0.0472,0.0473,
  0.0473,0.0474,0.0474,0.0475,0.0475,0.0476,0.0476,0.0477,0.0477,0.0478,
  0.0478,0.0479,0.0479,0.0479,0.0479,0.0480,0.0480,0.0481,0.0481,0.0481,
  0.0481,0.0482,0.0482,0.0483,0.0483,0.0484,0.0484,0.0485,0.0485,0.0486,
  0.0486,0.0487,0.0487,0.0488,0.0488,0.0488,0.0488,0.0489,0.0489,0.0490,
  0.0490,0.0491,0.0491,0.0491,0.0491,0.0492,0.0492,0.0493,0.0493,0.0493];

const Cm245 = [1.76e-3,2.59e-3,3.80e-3,5.21e-3,6.79e-3,8.55e-3,0.0105,0.0126,0.0146,0.0168,
  0.0189,0.0210,0.0232,0.0252,0.0274,0.0296,0.0320,0.0341,0.0363,0.0384,
  0.0406,0.0426,0.0450,0.0473,0.0497,0.0521,0.0544,0.0567,0.0591,0.0617,
  0.0641,0.0666,0.0690,0.0714,0.0740,0.0766,0.0790,0.0815,0.0838,0.0862,
  0.0880,0.0899,0.0918,0.0938,0.0958,0.0978,0.0995,0.1012,0.1026,0.1041,
  0.1055,0.1070,0.1085,0.1100,0.1116,0.1132,0.1144,0.1156,0.1168,0.1180,
  0.1192,0.1205,0.1218,0.1231,0.1239,0.1248,0.1257,0.1266,0.1275,0.1284,
  0.1293,0.1302,0.1311,0.1320,0.1329,0.1338,0.1347,0.1357,0.1362,0.1367,
  0.1376,0.1386,0.1391,0.1396,0.1400,0.1405,0.1415,0.1425,0.1430,0.1435,
  0.1440,0.1445,0.1450,0.1455,0.1460,0.1466,0.1468,0.1471,0.1473,0.1476,
  0.1479,0.1482,0.1485,0.1489,0.1492,0.1495,0.1498,0.1501,0.1504,0.1507,
  0.1510,0.1514,0.1517,0.1520,0.1523,0.1526,0.1529,0.1533,0.1536,0.1539,
  0.1541,0.1543,0.1545,0.1548,0.1550,0.1552,0.1554,0.1556,0.1558,0.1561,
  0.1563,0.1565,0.1567,0.1569,0.1571,0.1573,0.1575,0.1578,0.1580,0.1582,
  0.1583,0.1584,0.1585,0.1586,0.1587,0.1589,0.1590,0.1591,0.1592,0.1593,
  0.1594,0.1595,0.1596,0.1597,0.1598,0.1600,0.1601,0.1602,0.1603,0.1604,
  0.1605,0.1606,0.1607,0.1609,0.1610,0.1611,0.1612,0.1613,0.1614,0.1616,
  0.1617,0.1618,0.1619,0.1620,0.1621,0.1622,0.1623,0.1625,0.1626,0.1627,
  0.1628,0.1629,0.1630,0.1632,0.1633,0.1634,0.1635,0.1636,0.1637,0.1639,
  0.1640,0.1641,0.1642,0.1643,0.1644,0.1645,0.1646,0.1648,0.1649,0.1650];

const Cm246 = [1.11e-3,1.44e-3,1.96e-3,2.66e-3,3.57e-3,4.79e-3,6.24e-3,8.03e-3,0.0102,0.0126,
  0.0153,0.0184,0.0216,0.0254,0.0294,0.0341,0.0386,0.0432,0.0486,0.0540,
  0.0595,0.0657,0.0719,0.0782,0.0844,0.0912,0.0978,0.105,0.112,0.119,
  0.126,0.134,0.141,0.149,0.156,0.164,0.172,0.180,0.187,0.195,
  0.203,0.211,0.218,0.226,0.233,0.241,0.248,0.256,0.263,0.271,
  0.279,0.287,0.294,0.301,0.308,0.316,0.322,0.329,0.336,0.344,
  0.350,0.356,0.362,0.369,0.375,0.382,0.388,0.395,0.400,0.406,
  0.412,0.418,0.424,0.430,0.436,0.442,0.446,0.451,0.457,0.464,
  0.469,0.474,0.479,0.484,0.489,0.494,0.497,0.501,0.506,0.512,
  0.515,0.519,0.522,0.526,0.529,0.533,0.537,0.541,0.545,0.549,
  0.552,0.556,0.558,0.560,0.564,0.568,0.572,0.576,0.578,0.580,
  0.584,0.588,0.590,0.593,0.595,0.597,0.601,0.605,0.607,0.609,
  0.611,0.614,0.616,0.618,0.620,0.622,0.624,0.627,0.629,0.631,
  0.633,0.635,0.637,0.640,0.642,0.644,0.646,0.649,0.651,0.653,
  0.655,0.657,0.659,0.662,0.663,0.665,0.666,0.668,0.670,0.672,
  0.674,0.677,0.679,0.681,0.682,0.684,0.686,0.688,0.689,0.691,
  0.692,0.694,0.695,0.697,0.698,0.700,0.701,0.702,0.703,0.705,
  0.706,0.708,0.709,0.711,0.712,0.714,0.715,0.717,0.718,0.720,
  0.721,0.723,0.724,0.726,0.727,0.729,0.731,0.733,0.734,0.736,
  0.737,0.738,0.739,0.740,0.741,0.742,0.743,0.744,0.745,0.746];

// Axis ticks
const xTicks = [0, 50, 100, 150, 200, 250];
const yTicks = [1e-4, 1e-3, 1e-2, 1e-1, 1];
const yTickLabels = ["1.E-04", "1.E-03", "1.E-02", "1.E-01", "1.E+00"];

// Nuclide labels, anchored in data units (cycle, ratio) at their left edge / vertical centre
const nuclideLabels = [
  { text: "Cm246", cycle: 209.1, ratio: 0.751 },
  { text: "Cm245", cycle: 209.1, ratio: 0.1757 },
  { text: "U236", cycle: 209.1, ratio: 0.0671 },
  { text: "U235", cycle: 209.1, ratio: 0.02225 },
  { text: "Pu238", cycle: 209.1, ratio: 6.60e-3 },
  { text: "Pu240/Pu241", cycle: 209.1, ratio: 2.40e-3 },
  { text: "Pu239", cycle: 207.5, ratio: 6.36e-4 },
  { text: "Cm243", cycle: 57.0, ratio: 0.0591 },
  { text: "Am242m", cycle: 30.2, ratio: 0.0441 },
  { text: "Cm244", cycle: 21.1, ratio: 0.0278 },
  { text: "U238", cycle: 154.8, ratio: 5.24e-3 },
  { text: "Am243", cycle: 167.4, ratio: 2.835e-3 },
  { text: "Pu242", cycle: 37.2, ratio: 4.31e-3 },
  { text: "Np237", cycle: 26.5, ratio: 9.15e-4 },
  { text: "Am241", cycle: 84.8, ratio: 4.30e-4 }
];

// Pointer arrows (tail -> tip) in data units
const pointers = [
  { from: [35.0, 3.86e-3], to: [35.0, 2.50e-3] },     // Pu242
  { from: [171.1, 5.21e-3], to: [185.8, 3.80e-3] },   // U238
  { from: [165.5, 2.875e-3], to: [159.4, 3.306e-3] }, // Am243
  { from: [92.5, 5.16e-4], to: [92.5, 7.84e-4] }      // Am241
];

// ---- Chart ----
const svg = d3.select("#chart");
const FONT = "Liberation Serif, Times New Roman, serif";
const FS = 23.5;

const x = d3.scaleLinear().domain([0, 250]).range([133, 1068]);
const y = d3.scaleLog().domain([1e-4, 1]).range([1341, 22]);

// top and right frame lines
svg.append("path")
  .attr("d", `M${x(0)},${y(1)}H${x(250)}V${y(1e-4)}`)
  .attr("fill", "none").attr("stroke", "#8c8c8c").attr("stroke-width", 1.5);

// minor log ticks (inside)
const minorTicks = [];
for (let e = -4; e < 0; e++) for (let m = 2; m < 10; m++) minorTicks.push(m * Math.pow(10, e));
svg.append("g")
  .attr("transform", `translate(${x(0)},0)`)
  .call(d3.axisLeft(y).tickValues(minorTicks).tickSizeInner(-6).tickSizeOuter(0).tickFormat(""))
  .call(g => g.select(".domain").remove())
  .call(g => g.selectAll(".tick line").attr("stroke", "#000").attr("stroke-width", 1.3));

// major y axis
const gy = svg.append("g")
  .attr("transform", `translate(${x(0)},0)`)
  .call(d3.axisLeft(y).tickValues(yTicks).tickFormat((d, i) => yTickLabels[i])
    .tickSizeInner(-9).tickSizeOuter(0).tickPadding(21));
gy.selectAll(".tick line").attr("x1", -3).attr("stroke", "#000").attr("stroke-width", 1.3);
gy.select(".domain").attr("stroke", "#000").attr("stroke-width", 1.6);
gy.selectAll("text").attr("font-family", FONT).attr("font-size", FS).attr("fill", "#000");

// x axis
const gx = svg.append("g")
  .attr("transform", `translate(0,${y(1e-4)})`)
  .call(d3.axisBottom(x).tickValues(xTicks).tickSizeInner(-7).tickSizeOuter(0).tickPadding(28));
gx.selectAll(".tick line").attr("stroke", "#000").attr("stroke-width", 1.3);
gx.select(".domain").attr("stroke", "#000").attr("stroke-width", 1.6);
gx.selectAll("text").attr("font-family", FONT).attr("font-size", FS).attr("fill", "#000");

// axis titles
svg.append("text")
  .attr("x", (x(0) + x(250)) / 2).attr("y", 1422)
  .attr("text-anchor", "middle").attr("font-size", FS)
  .text("Cycle number");
svg.append("text")
  .attr("transform", `translate(22,686) rotate(-90)`)
  .attr("text-anchor", "middle").attr("dominant-baseline", "central").attr("font-size", FS)
  .text("Cumulative mass (waste) reduction ratio");

// marker shapes
function markerPath(shape, a, b) {
  switch (shape) {
    case "rect": return `M${-a / 2},${-b / 2}h${a}v${b}h${-a}Z`;
    case "circle": return `M${-a},0a${a},${a} 0 1,0 ${2 * a},0a${a},${a} 0 1,0 ${-2 * a},0Z`;
    case "triangle": return `M0,${-a * 0.55}L${a / 2},${a * 0.45}L${-a / 2},${a * 0.45}Z`;
    case "x": return `M${-a},${-a}L${a},${a}M${-a},${a}L${a},${-a}`;
    case "star": return `M${-a},${-a}L${a},${a}M${-a},${a}L${a},${-a}M0,${-a}V${a}`;
    case "plus": return `M${-a},0H${a}M0,${-b}V${b}`;
  }
}

// drawing order: later series are painted on top
const series = [
  { name: "U235",   values: U235,   color: "#FF00FF", shape: "rect",     a: 7,   b: 7 },
  { name: "U236",   values: U236,   color: "#FFFF00", shape: "triangle", a: 8.5 },
  { name: "U238",   values: U238,   color: "#0000FF", shape: "x",        a: 3.2, stroke: 1.6 },
  { name: "Np237",  values: Np237,  color: "#800080", shape: "star",     a: 3.6, stroke: 1.6 },
  { name: "Pu238",  values: Pu238,  color: "#800000", shape: "circle",   a: 3.7 },
  { name: "Pu239",  values: Pu239,  color: "#008080", shape: "plus",     a: 3,   b: 4.2, stroke: 1.6 },
  { name: "Pu240",  values: Pu240,  color: "#0000FF", shape: "rect",     a: 7,   b: 3 },
  { name: "Pu241",  values: Pu241,  color: "#00CCFF", shape: "rect",     a: 7,   b: 4 },
  { name: "Pu242",  values: Pu242,  color: "#FF0000", shape: "rect",     a: 6,   b: 6 },
  { name: "Am241",  values: Am241,  color: "#00FF00", shape: "rect",     a: 8,   b: 7 },
  { name: "Am242m", values: Am242m, color: "#FFFF99", shape: "triangle", a: 8.5 },
  { name: "Am243",  values: Am243,  color: "#000000", shape: "x",        a: 3.2, stroke: 1.5 },
  { name: "Cm243",  values: Cm243,  color: "#CC99FF", shape: "circle",   a: 4.1 },
  { name: "Cm244",  values: Cm244,  color: "#FFCC99", shape: "plus",     a: 4.2, b: 4.2, stroke: 2.2 },
  { name: "Cm245",  values: Cm245,  color: "#3366FF", shape: "rect",     a: 6,   b: 3.6 },
  { name: "Cm246",  values: Cm246,  color: "#33CCCC", shape: "rect",     a: 9,   b: 4 }
];

const stroked = new Set(["x", "star", "plus"]);
series.forEach(s => {
  const pts = cycles.map((c, i) => ({ c, v: s.values[i] }));
  const d = markerPath(s.shape, s.a, s.b);
  const g = svg.append("g").attr("class", "series").attr("data-name", s.name);
  const marks = g.selectAll("path").data(pts).join("path")
    .attr("transform", p => `translate(${x(p.c)},${y(p.v)})`)
    .attr("d", d);
  if (stroked.has(s.shape)) {
    marks.attr("fill", "none").attr("stroke", s.color).attr("stroke-width", s.stroke);
  } else {
    marks.attr("fill", s.color).attr("stroke", "none");
  }
});

// nuclide labels
svg.append("g").selectAll("text").data(nuclideLabels).join("text")
  .attr("x", d => x(d.cycle)).attr("y", d => y(d.ratio))
  .attr("dominant-baseline", "central")
  .attr("font-size", FS)
  .text(d => d.text);

// pointer arrows
const ga = svg.append("g");
pointers.forEach(p => {
  const x0 = x(p.from[0]), y0 = y(p.from[1]);
  const x1 = x(p.to[0]), y1 = y(p.to[1]);
  const len = Math.hypot(x1 - x0, y1 - y0);
  const ux = (x1 - x0) / len, uy = (y1 - y0) / len;
  const headL = 16, headW = 6.5;
  const bx = x1 - ux * headL, by = y1 - uy * headL;
  ga.append("line")
    .attr("x1", x0).attr("y1", y0).attr("x2", bx + ux).attr("y2", by + uy)
    .attr("stroke", "#000").attr("stroke-width", 3);
  ga.append("path")
    .attr("d", `M${x1},${y1}L${bx - uy * headW},${by + ux * headW}L${bx + uy * headW},${by - ux * headW}Z`)
    .attr("fill", "#000");
});
</script>
</body>
</html>
